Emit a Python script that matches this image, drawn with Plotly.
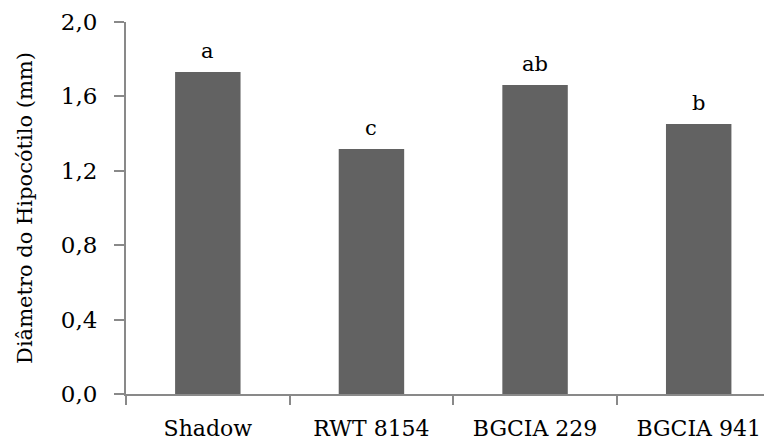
import plotly.graph_objects as go

categories = ["Shadow", "RWT 8154", "BGCIA 229", "BGCIA 941"]
values = [1.731, 1.317, 1.661, 1.452]
letters = ["a", "c", "ab", "b"]
y_ticks = [0.0, 0.4, 0.8, 1.2, 1.6, 2.0]
y_tick_text = ["0,0", "0,4", "0,8", "1,2", "1,6", "2,0"]

FONT = "DejaVu Serif"
AXIS_COLOR = "#898989"

fig = go.Figure()
fig.add_trace(go.Bar(
    x=categories, y=values,
    marker=dict(color="#626262", line=dict(width=0)),
    width=0.4,
))

for c, v, t in zip(categories, values, letters):
    fig.add_annotation(x=c, y=v, text=t, showarrow=False,
                       yanchor="middle", yshift=21,
                       font=dict(family=FONT, size=21, color="black"))

# page body adds an 8px offset, so the figure is sized to fit the window
fig.update_layout(
    width=764, height=435,
    margin=dict(l=118, r=0, t=14, b=49, autoexpand=False),
    paper_bgcolor="white", plot_bgcolor="white",
    showlegend=False,
    font=dict(family=FONT, color="black"),
)

fig.update_xaxes(
    type="category",
    range=[-0.5, 3.448],
    automargin=False,
    showgrid=False, zeroline=False,
    showline=True, linecolor=AXIS_COLOR, linewidth=2,
    ticks="outside", tickson="boundaries", ticklen=9, tickwidth=1.5, tickcolor=AXIS_COLOR,
    tickfont=dict(family=FONT, size=22, color="black"),
    ticklabelstandoff=14,
)

fig.update_yaxes(
    range=[0, 2.0],
    automargin=False,
    tickvals=y_ticks, ticktext=y_tick_text,
    showgrid=False, zeroline=False,
    showline=True, linecolor=AXIS_COLOR, linewidth=2,
    ticks="outside", ticklen=10, tickwidth=1.5, tickcolor=AXIS_COLOR,
    tickfont=dict(family=FONT, size=23, color="black"),
    ticklabelstandoff=12,
    title=dict(text="Diâmetro do Hipocótilo (mm)",
               font=dict(family=FONT, size=21, color="black"),
               standoff=22),
)

fig.write_html("out.html")
